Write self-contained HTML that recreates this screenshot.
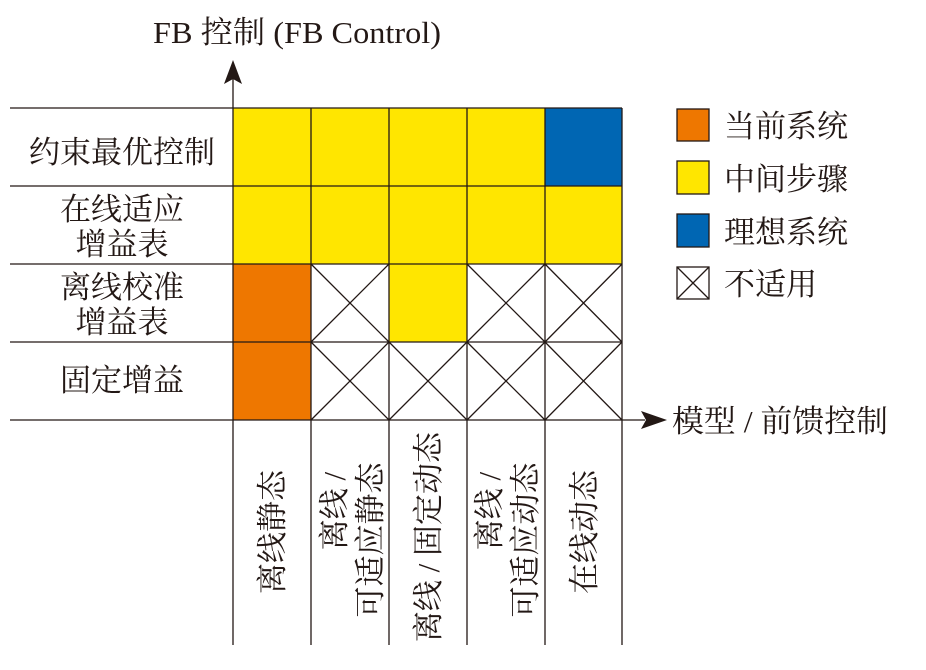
<!DOCTYPE html>
<html><head><meta charset="utf-8"><style>
html,body{margin:0;padding:0;background:#fff;width:926px;height:670px;overflow:hidden}
text{font-family:"Liberation Serif","Noto Serif CJK SC",serif;fill:#231815}
</style></head><body>
<svg width="926" height="670" viewBox="0 0 926 670" xmlns="http://www.w3.org/2000/svg">
<g stroke="none">
<rect x="233" y="108" width="312" height="78" fill="#FFE600"/>
<rect x="545" y="108" width="77" height="78" fill="#0066B3"/>
<rect x="233" y="186" width="389" height="78" fill="#FFE600"/>
<rect x="233" y="264" width="78" height="156" fill="#EE7700"/>
<rect x="389" y="264" width="78" height="78" fill="#FFE600"/>
</g>
<g stroke="#231815" stroke-width="1.3" fill="none">
<path d="M311 264L389 342M389 264L311 342M467 264L545 342M545 264L467 342M545 264L622 342M622 264L545 342
M311 342L389 420M389 342L311 420M389 342L467 420M467 342L389 420M467 342L545 420M545 342L467 420M545 342L622 420M622 342L545 420"/>
<path d="M10 108H622M10 186H622M10 264H622M10 342H622M10 420H645"/>
<path d="M233 70V645M311 108V645M389 108V645M467 108V645M545 108V645M622 108V645"/>
<rect x="677" y="109" width="32" height="32" fill="#EE7700"/>
<rect x="677" y="161" width="32" height="33" fill="#FFE600"/>
<rect x="677" y="214" width="32" height="33" fill="#0066B3"/>
<rect x="677" y="267" width="32" height="32" fill="#fff"/>
<path d="M677 267L709 299M709 267L677 299"/>
</g>
<path d="M233 60L224 84L233 79L242 84Z" fill="#231815"/>
<path d="M667 420L641 411L646 420L641 429Z" fill="#231815"/>

<text x="153" y="43" font-size="31" textLength="288" lengthAdjust="spacingAndGlyphs">FB 控制 (FB Control)</text>
<text x="672" y="432" font-size="31" textLength="216" lengthAdjust="spacingAndGlyphs">模型 / 前馈控制</text>

<g font-size="31" text-anchor="middle">
<text x="122" y="163">约束最优控制</text>
<text x="122" y="220">在线适应</text>
<text x="122" y="255">增益表</text>
<text x="122" y="298">离线校准</text>
<text x="122" y="333">增益表</text>
<text x="122" y="391">固定增益</text>
</g>
<g font-size="31">
<text x="724" y="137">当前系统</text>
<text x="724" y="190">中间步骤</text>
<text x="724" y="243">理想系统</text>
<text x="724" y="295">不适用</text>
</g>

<g font-size="31" text-anchor="middle">
<text transform="translate(283,532) rotate(-90)">离线静态</text>
<text transform="translate(345,511) rotate(-90)">离线 /</text>
<text transform="translate(381,540) rotate(-90)">可适应静态</text>
<text transform="translate(439,537) rotate(-90)">离线 / 固定动态</text>
<text transform="translate(500,511) rotate(-90)">离线 /</text>
<text transform="translate(536,540) rotate(-90)">可适应动态</text>
<text transform="translate(595,532) rotate(-90)">在线动态</text>
</g>
</svg>
</body></html>
